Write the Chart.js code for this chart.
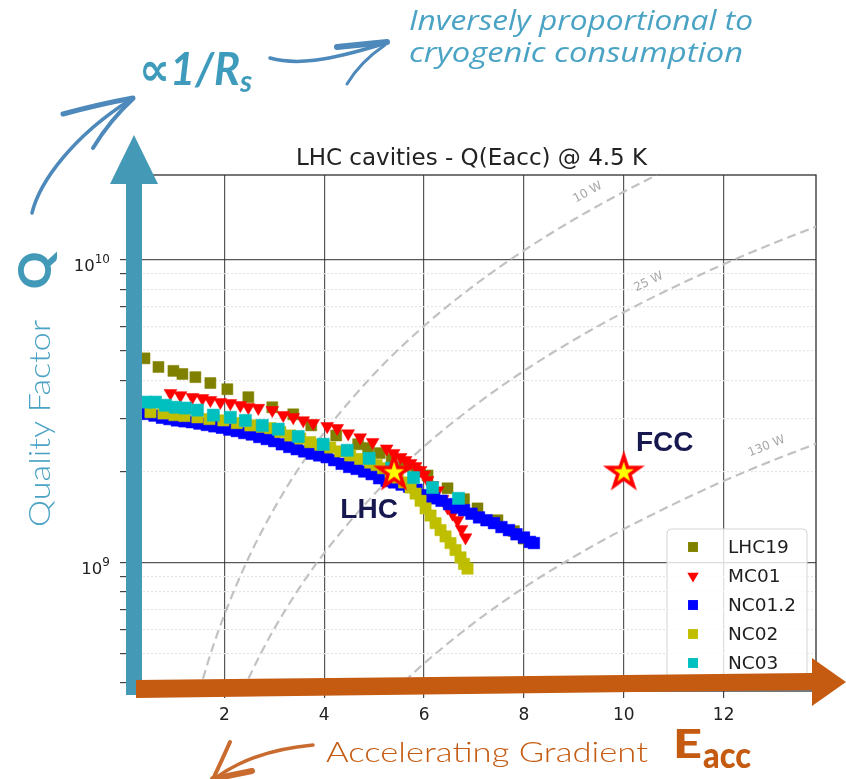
<!DOCTYPE html>
<html>
<head>
<meta charset="utf-8">
<title>LHC cavities - Q(Eacc) @ 4.5 K</title>
<script src="https://cdn.jsdelivr.net/npm/chart.js@4.4.1/dist/chart.umd.min.js"></script>
<style>
  html, body { margin: 0; padding: 0; background: #ffffff; }
  #wrap { position: relative; width: 846px; height: 779px; overflow: hidden; }
  #chart, #overlay { position: absolute; left: 0; top: 0; }
</style>
</head>
<body>
<div id="wrap">
  <canvas id="chart" width="846" height="779"></canvas>
  <svg id="overlay" width="846" height="779" viewBox="0 0 846 779" xmlns="http://www.w3.org/2000/svg">
    <!-- vertical axis arrow (quality factor) -->
    <polygon points="126,695 142,695 142,184 158,184 134,135 110,184 126,184" fill="#4499b7"/>
    <!-- horizontal axis arrow (gradient) -->
    <polygon points="136,680 812,673 812,658 846,682 812,706 812,690 136,698" fill="#c55a11"/>

    <!-- brush arrows -->
    <g fill="none" stroke="#4d89ba" stroke-linecap="round" stroke-linejoin="round">
      <path d="M32,213 C40,180 75,135 130,100" stroke-width="3.5"/>
      <path d="M63,114 Q100,104 133,98" stroke-width="5"/>
      <path d="M93,148 Q110,120 133,99" stroke-width="4"/>
      <path d="M270,58 C295,65 325,62 386,43" stroke-width="3.5"/>
      <path d="M337,47 L387,42" stroke-width="6"/>
      <path d="M347,84 Q360,62 385,45" stroke-width="3"/>
    </g>
    <g fill="none" stroke="#c96b2e" stroke-linecap="round" stroke-linejoin="round">
      <path d="M313,745 C280,748 245,756 214,779" stroke-width="3.5"/>
      <path d="M230,742 Q222,760 213,779" stroke-width="4"/>
      <path d="M213,779 L252,771" stroke-width="6"/>
    </g>

    <!-- annotations -->
    <text x="139" y="85" font-family="Lato, 'DejaVu Sans', sans-serif" font-weight="700" font-style="italic" font-size="46" fill="#3f9bbb" textLength="101" lengthAdjust="spacingAndGlyphs">∝1/R</text>
    <text x="240" y="92" font-family="Lato, 'DejaVu Sans', sans-serif" font-weight="700" font-style="italic" font-size="30" fill="#3f9bbb">s</text>

    <text x="409" y="30" font-family="'Open Sans', sans-serif" font-style="italic" font-size="27" fill="#4aa3c4" textLength="344" lengthAdjust="spacingAndGlyphs">Inversely proportional to</text>
    <text x="409" y="62" font-family="'Open Sans', sans-serif" font-style="italic" font-size="27" fill="#4aa3c4" textLength="334" lengthAdjust="spacingAndGlyphs">cryogenic consumption</text>

    <text transform="translate(50,527) rotate(-90)" font-family="Lato, sans-serif" font-weight="300" font-size="30" fill="#4aa3c4" textLength="207" lengthAdjust="spacingAndGlyphs">Quality Factor</text>
    <text transform="translate(51,289) rotate(-90)" font-family="Lato, sans-serif" font-weight="900" font-size="46" fill="#4399b8">Q</text>

    <text x="326" y="762" font-family="Lato, sans-serif" font-weight="300" font-size="28" fill="#c55a11" textLength="322" lengthAdjust="spacingAndGlyphs">Accelerating Gradient</text>
    <text x="673" y="758" font-family="Lato, sans-serif" font-weight="900" font-size="39" fill="#c55a11" textLength="29" lengthAdjust="spacingAndGlyphs">E</text>
    <text x="703" y="768" font-family="Lato, sans-serif" font-weight="900" font-size="36" fill="#c55a11" textLength="48" lengthAdjust="spacingAndGlyphs">acc</text>
  </svg>
</div>

<script>
// ---- measured cavities: accelerating gradient (MV/m) and Q0 (units of 1e9) ----
const seriesNames = ['LHC19', 'MC01', 'NC01.2', 'NC02', 'NC03'];

const lhc19E = [0.40, 0.68, 0.98, 1.16, 1.42, 1.72, 2.06, 2.48, 2.96, 3.38, 3.74, 4.24, 4.68, 4.88, 5.11,
                5.35, 5.60, 5.85, 6.07, 6.47, 6.80, 7.07, 7.47, 7.80, 8.00];
const lhc19Q = [4.73, 4.43, 4.30, 4.20, 4.10, 3.92, 3.74, 3.52, 3.26, 3.09, 2.84, 2.63, 2.46, 2.39, 2.30,
                2.20, 2.08, 2.00, 1.94, 1.76, 1.62, 1.51, 1.38, 1.27, 1.20];

const mc01E = [0.92, 1.12, 1.36, 1.56, 1.72, 1.92, 2.12, 2.32, 2.48, 2.68, 2.96, 3.18, 3.38, 3.58, 3.78,
               4.06, 4.26, 4.48, 4.72, 4.97, 5.25, 5.39, 5.53, 5.63, 5.73, 5.83, 5.93, 6.00, 6.07, 6.17,
               6.27, 6.37, 6.47, 6.57, 6.67, 6.75, 6.83];
const mc01Q = [3.63, 3.57, 3.52, 3.49, 3.44, 3.39, 3.36, 3.31, 3.26, 3.24, 3.19, 3.07, 3.02, 2.95, 2.89,
               2.82, 2.78, 2.67, 2.59, 2.50, 2.38, 2.30, 2.23, 2.18, 2.13, 2.08, 2.02, 1.95, 1.87, 1.80,
               1.73, 1.62, 1.52, 1.45, 1.38, 1.29, 1.21];

const nc012E = [0.30, 0.45, 0.60, 0.75, 0.90, 1.05, 1.20, 1.35, 1.50, 1.65, 1.80, 1.95, 2.10, 2.25, 2.40,
                2.55, 2.70, 2.85, 3.00, 3.15, 3.30, 3.45, 3.60, 3.75, 3.90, 4.05, 4.20, 4.35, 4.50, 4.65,
                4.80, 4.95, 5.10, 5.25, 5.40, 5.55, 5.70, 5.85, 6.00, 6.10, 6.20, 6.35, 6.50, 6.65, 6.80,
                6.95, 7.10, 7.25, 7.40, 7.55, 7.70, 7.85, 8.00, 8.12, 8.20];
const nc012Q = [3.12, 3.10, 3.06, 3.01, 2.98, 2.95, 2.93, 2.91, 2.88, 2.85, 2.82, 2.79, 2.75, 2.72, 2.68,
                2.65, 2.60, 2.56, 2.52, 2.46, 2.41, 2.37, 2.33, 2.29, 2.26, 2.23, 2.18, 2.12, 2.07, 2.04,
                2.00, 1.96, 1.90, 1.86, 1.84, 1.81, 1.78, 1.74, 1.67, 1.64, 1.63, 1.60, 1.56, 1.52, 1.49,
                1.45, 1.41, 1.38, 1.35, 1.31, 1.28, 1.24, 1.21, 1.17, 1.16];

const nc02E = [0.52, 0.78, 1.00, 1.20, 1.46, 1.70, 1.98, 2.25, 2.52, 2.75, 2.92, 3.12, 3.32, 3.52, 3.72,
               3.92, 4.12, 4.32, 4.52, 4.72, 4.92, 5.05, 5.18, 5.33, 5.47, 5.60, 5.73, 5.83, 5.93, 6.03,
               6.13, 6.23, 6.33, 6.43, 6.53, 6.63, 6.73, 6.80, 6.87];
const nc02Q = [3.14, 3.11, 3.07, 3.05, 3.02, 2.98, 2.95, 2.89, 2.84, 2.81, 2.78, 2.70, 2.63, 2.57, 2.50,
               2.45, 2.40, 2.33, 2.26, 2.20, 2.14, 2.10, 2.05, 1.98, 1.91, 1.84, 1.77, 1.69, 1.60, 1.51,
               1.43, 1.35, 1.28, 1.22, 1.16, 1.10, 1.04, 0.99, 0.955];

const nc03E = [0.42, 0.62, 0.82, 1.02, 1.22, 1.46, 1.78, 2.12, 2.42, 2.76, 3.08, 3.48, 3.98, 4.46, 4.90,
               5.35, 5.79, 6.17, 6.69];
const nc03Q = [3.39, 3.39, 3.31, 3.26, 3.24, 3.19, 3.07, 3.02, 2.95, 2.84, 2.76, 2.61, 2.46, 2.35, 2.21,
               2.05, 1.91, 1.77, 1.63];

// ---- machine operating points ----
const machineNames = ['LHC', 'FCC'];
const machineE = [5.4, 10.0];
const machineQ = [2.0, 2.0];

// ---- constant dissipated power curves (Q in units of 1e9) ----
const powerNames = ['10 W', '25 W', '130 W'];
const power10E = [1.49, 1.75, 2.0, 2.5, 3.0, 3.5, 4.0, 5.0, 6.0, 7.0, 8.0, 9.0, 10.0, 10.66];
const power10Q = [0.373, 0.515, 0.672, 1.05, 1.51, 2.06, 2.69, 4.20, 6.05, 8.23, 10.75, 13.6, 16.8, 19.1];
const power25E = [2.36, 2.75, 3.0, 3.5, 4.0, 5.0, 6.0, 7.0, 8.0, 9.0, 10.0, 11.0, 12.0, 13.0, 13.85];
const power25Q = [0.376, 0.508, 0.605, 0.823, 1.075, 1.68, 2.42, 3.29, 4.30, 5.44, 6.72, 8.13, 9.68, 11.36, 12.89];
const power130E = [5.40, 6.0, 7.0, 8.0, 9.0, 10.0, 11.0, 12.0, 13.0, 13.85];
const power130Q = [0.376, 0.464, 0.632, 0.826, 1.045, 1.29, 1.56, 1.86, 2.18, 2.47];
// where each power label sits (E, Q/1e9) and its slant in degrees
const powerLabelE = [9.28, 10.50, 12.86];
const powerLabelQ = [16.7, 8.46, 2.42];
const powerLabelAngle = [-29, -26, -22];

// ---- axes ----
const chartTitle = 'LHC cavities - Q(Eacc) @ 4.5 K';
const xTickValues = [2, 4, 6, 8, 10, 12];
const yTickValues = [4e8, 5e8, 6e8, 7e8, 8e8, 9e8, 1e9, 2e9, 3e9, 4e9, 5e9, 6e9, 7e9, 8e9, 9e9, 1e10];
const yLabelValues = [1e9, 1e10];
const xRange = [0.05, 13.85];
const yRange = [3.763e8, 1.909e10];

const pts = (E, Q) => E.map((e, i) => ({ x: e, y: Q[i] * 1e9 }));
const isDecade = v => Math.abs(Math.log10(v) - Math.round(Math.log10(v))) < 1e-9;

function starMarker() {
  const c = document.createElement('canvas');
  c.width = 42; c.height = 42;
  const g = c.getContext('2d');
  g.beginPath();
  for (let i = 0; i < 10; i++) {
    const r = i % 2 ? 6.3 : 16.5;
    const a = -Math.PI / 2 + i * Math.PI / 5;
    const px = 21 + r * Math.cos(a), py = 22 + r * Math.sin(a);
    if (i === 0) g.moveTo(px, py); else g.lineTo(px, py);
  }
  g.closePath();
  g.fillStyle = '#ffff00';
  g.fill();
  g.lineWidth = 3.5;
  g.lineJoin = 'miter';
  g.strokeStyle = '#ff0000';
  g.stroke();
  return c;
}

const seriesStyle = [
  { color: '#808000', style: 'rect', radius: 7.8, rotation: 0 },
  { color: '#ff0000', style: 'triangle', radius: 7.4, rotation: 180 },
  { color: '#0000ff', style: 'rect', radius: 8.2, rotation: 0 },
  { color: '#bfbf00', style: 'rect', radius: 8, rotation: 0 },
  { color: '#00bfbf', style: 'rect', radius: 8.6, rotation: 0 }
];
const seriesData = [pts(lhc19E, lhc19Q), pts(mc01E, mc01Q), pts(nc012E, nc012Q), pts(nc02E, nc02Q), pts(nc03E, nc03Q)];

const datasets = [];
seriesNames.forEach((name, i) => {
  const s = seriesStyle[i];
  datasets.push({
    label: name,
    data: seriesData[i],
    pointStyle: s.style,
    pointRadius: s.radius,
    pointRotation: s.rotation,
    pointBackgroundColor: s.color,
    pointBorderColor: s.color,
    pointBorderWidth: 0.5,
    showLine: false,
    order: 6 - i
  });
});
[[power10E, power10Q], [power25E, power25Q], [power130E, power130Q]].forEach(([E, Q], i) => {
  datasets.push({
    label: powerNames[i],
    data: pts(E, Q),
    showLine: true,
    borderColor: '#c2c2c2',
    borderWidth: 2.2,
    borderDash: [9, 5],
    pointRadius: 0,
    cubicInterpolationMode: 'monotone',
    order: 10
  });
});
const starImg = starMarker();
datasets.push({
  label: 'machines',
  data: pts(machineE, machineQ),
  pointStyle: starImg,
  pointRadius: 18,
  showLine: false,
  order: 1
});
const starIndex = datasets.length - 1;

// plot frame, title, decade labels and power-curve labels
const framePlugin = {
  id: 'plotFrame',
  beforeDatasetsDraw(chart) {
    const { ctx, chartArea: a, scales } = chart;
    ctx.save();
    ctx.strokeStyle = '#2e2e2e';
    ctx.lineWidth = 1.3;
    ctx.strokeRect(a.left, a.top, a.right - a.left, a.bottom - a.top);

    ctx.fillStyle = '#222';
    ctx.font = '23px "DejaVu Sans"';
    ctx.textAlign = 'center';
    ctx.textBaseline = 'alphabetic';
    ctx.fillText(chartTitle, (a.left + a.right) / 2, a.top - 10);

    // decade tick labels written as 10 with a raised exponent
    ctx.textAlign = 'left';
    yLabelValues.forEach(v => {
      const py = scales.y.getPixelForValue(v);
      const exp = String(Math.round(Math.log10(v)));
      ctx.font = '12px "DejaVu Sans"';
      const we = ctx.measureText(exp).width;
      ctx.font = '16.5px "DejaVu Sans"';
      const wb = ctx.measureText('10').width;
      const right = a.left - 17;
      ctx.fillText('10', right - we - wb, py + 11);
      ctx.font = '12px "DejaVu Sans"';
      ctx.fillText(exp, right - we, py + 3);
    });

    ctx.fillStyle = '#a8a8a8';
    ctx.font = '12px "DejaVu Sans"';
    ctx.textAlign = 'center';
    ctx.textBaseline = 'middle';
    powerNames.forEach((name, i) => {
      const px = scales.x.getPixelForValue(powerLabelE[i]);
      const py = scales.y.getPixelForValue(powerLabelQ[i] * 1e9);
      ctx.save();
      ctx.translate(px, py);
      ctx.rotate(powerLabelAngle[i] * Math.PI / 180);
      ctx.fillText(name, 0, 0);
      ctx.restore();
    });
    ctx.restore();
  }
};

// machine names beside the stars, and the series legend
const overlayPlugin = {
  id: 'seriesLegend',
  afterDatasetsDraw(chart) {
    const { ctx, chartArea: a } = chart;
    ctx.save();
    const stars = chart.getDatasetMeta(starIndex).data;
    ctx.font = 'bold 28px "Liberation Sans", Arial, sans-serif';
    ctx.fillStyle = '#181850';
    ctx.textAlign = 'center';
    ctx.textBaseline = 'alphabetic';
    const offsets = [[-25, 47], [41, -20]];
    stars.forEach((p, i) => {
      ctx.fillText(machineNames[i], p.x + offsets[i][0], p.y + offsets[i][1]);
    });

    const bx = a.right - 149, by = a.top + 354, bw = 140, bh = 160;
    ctx.beginPath();
    ctx.roundRect(bx, by, bw, bh, 4);
    ctx.fillStyle = 'rgba(255,255,255,0.8)';
    ctx.fill();
    ctx.strokeStyle = '#d4d4d4';
    ctx.lineWidth = 1;
    ctx.stroke();
    ctx.font = '18.5px "DejaVu Sans"';
    ctx.textAlign = 'left';
    ctx.textBaseline = 'middle';
    seriesNames.forEach((name, i) => {
      const s = seriesStyle[i];
      const ry = by + 18 + i * 29;
      ctx.fillStyle = s.color;
      ctx.strokeStyle = s.color;
      Chart.helpers.drawPoint(ctx, { pointStyle: s.style, radius: s.style === 'rect' ? 7 : 6.6, rotation: s.rotation, borderWidth: 0 }, bx + 26, ry);
      ctx.fillStyle = '#1e1e1e';
      ctx.fillText(name, bx + 61, ry + 1);
    });
    ctx.restore();
  }
};

new Chart(document.getElementById('chart'), {
  type: 'scatter',
  data: { datasets },
  options: {
    responsive: false,
    animation: false,
    devicePixelRatio: 1,
    layout: { padding: { left: 67, right: 30, top: 175, bottom: 48 } },
    plugins: {
      legend: { display: false },
      tooltip: { enabled: false },
      title: { display: false }
    },
    scales: {
      x: {
        type: 'linear',
        min: xRange[0],
        max: xRange[1],
        afterBuildTicks: s => { s.ticks = xTickValues.map(v => ({ value: v })); },
        afterFit: s => { s.height = 40; },
        ticks: { color: '#222', font: { family: '"DejaVu Sans"', size: 17 }, padding: 7 },
        grid: { color: 'rgba(45,45,45,0.8)', lineWidth: 1.2, tickLength: 7, tickColor: '#444' },
        border: { display: false }
      },
      y: {
        type: 'logarithmic',
        min: yRange[0],
        max: yRange[1],
        afterBuildTicks: s => { s.ticks = yTickValues.map(v => ({ value: v, major: isDecade(v) })); },
        afterFit: s => { s.width = 60; },
        ticks: { autoSkip: false, callback: () => '' },
        grid: {
          color: c => isDecade(c.tick.value) ? 'rgba(45,45,45,0.8)' : 'rgba(0,0,0,0)',
          tickColor: '#444',
          lineWidth: 1.2,
          tickLength: 7
        },
        border: { display: false }
      },
      y2: {
        type: 'logarithmic',
        position: 'left',
        min: yRange[0],
        max: yRange[1],
        afterBuildTicks: s => { s.ticks = yTickValues.map(v => ({ value: v })); },
        afterFit: s => { s.width = 0; },
        ticks: { display: false },
        grid: {
          color: c => isDecade(c.tick.value) ? 'rgba(0,0,0,0)' : '#e4e4e4',
          lineWidth: 1.2,
          drawTicks: false
        },
        border: { display: false, dash: [2, 2] }
      }
    }
  },
  plugins: [framePlugin, overlayPlugin]
});
</script>
</body>
</html>
